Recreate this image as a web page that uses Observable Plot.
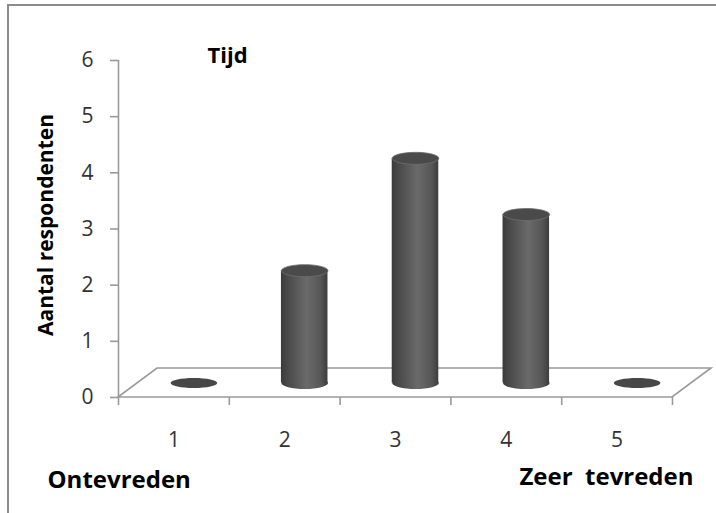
<!DOCTYPE html>
<html><head><meta charset="utf-8">
<script src="https://cdn.jsdelivr.net/npm/d3@7"></script>
<script src="https://cdn.jsdelivr.net/npm/@observablehq/plot@0.6"></script>
<style>
html,body{margin:0;padding:0;background:#fff;}
#wrap{position:relative;width:716px;height:513px;overflow:hidden;}
#frame{position:absolute;left:7px;top:4px;width:740px;height:540px;border-top:2px solid #8c8c8c;border-left:2px solid #8c8c8c;box-sizing:border-box;pointer-events:none;}
svg text{white-space:pre;}
</style></head><body>
<div id="wrap"><div id="chart"></div><div id="frame"></div></div>
<script>
// ---- data ----
const categories = [1, 2, 3, 4, 5];
const counts = [0, 2, 4, 3, 0];
const yTicks = [0, 1, 2, 3, 4, 5, 6];
const title = "Tijd";
const yLabel = "Aantal respondenten";
const lowLabel = "Ontevreden";
const highLabel = "Zeer  tevreden";

const data = categories.map((c, i) => ({cat: c, value: counts[i]}));
const bars = data.filter(d => d.value > 0);
const flats = data.filter(d => d.value === 0);
const boundaries = categories.map(c => c - 0.5).concat([categories[categories.length - 1] + 0.5]);

// ---- styling constants ----
const DX = 20, DY = -14.5;          // cylinder depth offset (px)
const FDX = 39, FDY = -29;          // floor depth (px)
const HALF = 0.21;                  // half cylinder width (category units)
const RX = 23.3, RY = 6;
const AXIS = "#9a9a9a";

function ellipse(rx, ry) {
  const k = 0.5522848;
  return {draw(ctx) {
    ctx.moveTo(rx, 0);
    ctx.bezierCurveTo(rx, ry * k, rx * k, ry, 0, ry);
    ctx.bezierCurveTo(-rx * k, ry, -rx, ry * k, -rx, 0);
    ctx.bezierCurveTo(-rx, -ry * k, -rx * k, -ry, 0, -ry);
    ctx.bezierCurveTo(rx * k, -ry, rx, -ry * k, rx, 0);
    ctx.closePath();
  }};
}

function defs() {
  const g = d3.create("svg:g");
  const lg = g.append("defs").append("linearGradient")
    .attr("id", "cyl").attr("x1", 0).attr("x2", 1).attr("y1", 0).attr("y2", 0);
  [[0, "#3a3a3a"], [0.12, "#474747"], [0.55, "#6a6a6a"], [0.85, "#565656"], [1, "#3c3c3c"]]
    .forEach(([o, c]) => lg.append("stop").attr("offset", o).attr("stop-color", c));
  return g.node();
}

function floor() {
  const sc = [...arguments].find(a => a && typeof a.x === "function" && typeof a.y === "function");
  const x0 = sc.x(boundaries[0]), x1 = sc.x(boundaries[boundaries.length - 1]), y0 = sc.y(0);
  const pts = [[x0, y0], [x1, y0], [x1 + FDX, y0 + FDY], [x0 + FDX, y0 + FDY]];
  return d3.create("svg:polygon")
    .attr("points", pts.map(p => p.join(",")).join(" "))
    .attr("fill", "#fff").attr("stroke", AXIS).attr("stroke-width", 1.6)
    .attr("stroke-linejoin", "miter").node();
}

const chart = Plot.plot({
  width: 716, height: 513,
  marginLeft: 118, marginRight: 44, marginTop: 60, marginBottom: 116,
  style: {fontFamily: "'Open Sans', sans-serif", background: "transparent"},
  x: {type: "linear", domain: [boundaries[0], boundaries[boundaries.length - 1]]},
  y: {domain: [0, 6]},
  marks: [
    defs,
    floor,
    Plot.ruleX([boundaries[0]], {stroke: AXIS, strokeWidth: 1.6}),
    Plot.axisY(yTicks, {tickSize: 8, tickPadding: 17, fontSize: 21, stroke: AXIS, strokeWidth: 1.6, fill: "#333", label: null, tickFormat: d => String(d)}),
    Plot.axisX(boundaries, {tickSize: 8, tickFormat: () => "", stroke: AXIS, strokeWidth: 1.6, label: null}),
    Plot.axisX(categories, {tickSize: 0, tickPadding: 35, fontSize: 21, fill: "#333", label: null, tickFormat: d => String(d)}),
    // zero-value discs
    Plot.dot(flats, {x: "cat", y: d => 0, symbol: ellipse(RX, 5), r: 5, fill: "#474747", stroke: "none", dx: DX, dy: DY}),
    // cylinder bottoms
    Plot.dot(bars, {x: "cat", y: d => 0, symbol: ellipse(RX, RY), r: 5, fill: "url(#cyl)", stroke: "none", dx: DX, dy: DY}),
    // cylinder bodies
    Plot.rect(bars, {x1: d => d.cat - HALF, x2: d => d.cat + HALF, y1: d => 0, y2: "value", fill: "url(#cyl)", dx: DX, dy: DY}),
    // cylinder tops
    Plot.dot(bars, {x: "cat", y: "value", symbol: ellipse(RX, RY), r: 5, fill: "#4a4a4a", stroke: "#6e6e6e", strokeWidth: 0.8, dx: DX, dy: DY}),
    // texts
    Plot.text([title], {text: d => d, frameAnchor: "top-left", dx: 89, dy: 2, textAnchor: "start", lineAnchor: "bottom", fontSize: 22, fontWeight: "bold", fill: "#000"}),
    Plot.text([yLabel], {text: d => d, frameAnchor: "left", dx: -66, dy: -4, rotate: -90, textAnchor: "middle", lineAnchor: "bottom", fontSize: 21, fontWeight: "bold", fill: "#000"}),
    Plot.text([lowLabel], {text: d => d, frameAnchor: "bottom-left", dx: -71, dy: 90, textAnchor: "start", lineAnchor: "bottom", fontSize: 24, fontWeight: "bold", fill: "#000"}),
    Plot.text([highLabel], {text: d => d, frameAnchor: "bottom-right", dx: 21, dy: 87, textAnchor: "end", lineAnchor: "bottom", fontSize: 24, fontWeight: "bold", fill: "#000"})
  ]
});
document.getElementById("chart").appendChild(chart);
</script>
</body></html>
